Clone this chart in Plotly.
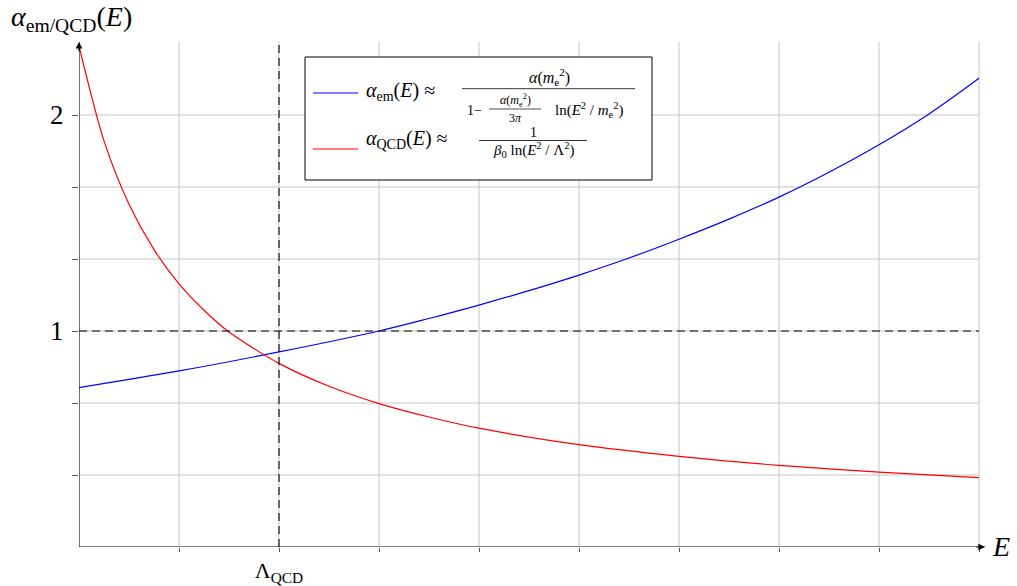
import plotly.graph_objects as go

# ---- data ----
em_E = [0, 1.0, 2.0, 3.0, 3.5, 4.0, 4.5, 5.0, 5.5, 6.0, 6.5, 7.0, 7.5, 8.0, 8.5, 9.0]
em_alpha = [0.738, 0.815, 0.903, 1.0, 1.058, 1.120, 1.187, 1.259, 1.338, 1.425, 1.518,
            1.620, 1.735, 1.862, 2.005, 2.170]

qcd_E = [0, 0.25, 0.5, 0.75, 1.0, 1.25, 1.5, 2.0, 2.5, 3.0, 3.5, 4.0, 5.0, 6.0, 7.0, 8.0, 9.0]
qcd_alpha = [2.32, 1.88, 1.587, 1.377, 1.218, 1.096, 0.995, 0.85, 0.744, 0.664, 0.602, 0.55,
             0.474, 0.420, 0.378, 0.347, 0.321]

x_ticks = [1, 2, 3, 4, 5, 6, 7, 8, 9]
x_ticklabels = ["", "Λ<sub>QCD</sub>", "", "", "", "", "", "", ""]
y_ticks = [1/3, 2/3, 1, 4/3, 5/3, 2]
y_ticklabels = ["", "", "1", "", "", "2"]

lambda_qcd = 2.0
ref_level = 1.0

# ---- geometry ----
W, H = 1017, 586
ML, MR, MT, MB = 79, 32, 42, 39
XMAX, YMAX = 9.06, 2.338
GRID_X_END = 9.0
FONT = "Liberation Serif"
GRID = "#c4c4c4"


def P(px, py):
    return (px - ML) / (W - ML - MR), (H - MB - py) / (H - MT - MB)


fig = go.Figure()

fig.add_trace(go.Scatter(x=em_E, y=em_alpha, mode="lines",
                         line=dict(color="#0000ff", width=1.2, shape="spline", smoothing=1.0),
                         showlegend=False, hoverinfo="skip"))
fig.add_trace(go.Scatter(x=qcd_E, y=qcd_alpha, mode="lines",
                         line=dict(color="#ff0000", width=1.2, shape="spline", smoothing=0.8),
                         showlegend=False, hoverinfo="skip"))

shapes = []
# grid
for xv in x_ticks:
    shapes.append(dict(type="line", xref="x", yref="y", x0=xv, x1=xv, y0=0, y1=YMAX,
                       line=dict(color=GRID, width=1), layer="below"))
for yv in y_ticks:
    shapes.append(dict(type="line", xref="x", yref="y", x0=0, x1=GRID_X_END, y0=yv, y1=yv,
                       line=dict(color=GRID, width=1), layer="below"))
# dashed reference lines
shapes.append(dict(type="line", xref="x", yref="y", x0=lambda_qcd, x1=lambda_qcd, y0=0, y1=YMAX,
                   line=dict(color="black", width=1.1, dash="8px,5px")))
shapes.append(dict(type="line", xref="x", yref="y", x0=0, x1=GRID_X_END, y0=ref_level, y1=ref_level,
                   line=dict(color="black", width=1.1, dash="8px,5px")))
# axis lines
shapes.append(dict(type="line", xref="x", yref="y", x0=0, x1=XMAX, y0=0, y1=0,
                   line=dict(color="black", width=1.1)))
shapes.append(dict(type="line", xref="x", yref="y", x0=0, x1=0, y0=0, y1=YMAX,
                   line=dict(color="black", width=1.1)))

# legend box
lx0, ly0 = P(305, 57)
lx1, ly1 = P(652, 180)
shapes.append(dict(type="rect", xref="paper", yref="paper", x0=lx0, x1=lx1, y0=ly1, y1=ly0,
                   line=dict(color="black", width=1), fillcolor="white"))


def hline(px0, px1, py, color, width=1):
    a, b = P(px0, py)
    c, _ = P(px1, py)
    shapes.append(dict(type="line", xref="paper", yref="paper", x0=a, x1=c, y0=b, y1=b,
                       line=dict(color=color, width=width)))


hline(313, 358, 93, "#0000ff", 1.2)
hline(313, 358, 149, "#ff0000", 1.2)
hline(462, 635, 88.7, "black", 0.8)
hline(489, 541, 109, "black", 0.7)
hline(479, 587, 140.5, "black", 0.8)

annotations = []


def txt(text, px, py, size, xanchor="center"):
    x, y = P(px, py)
    annotations.append(dict(text=text, x=x, y=y, xref="paper", yref="paper", showarrow=False,
                            xanchor=xanchor, yanchor="middle",
                            font=dict(family=FONT, size=size, color="black")))


txt("<i>α</i><sub>em</sub>(<i>E</i>) ≈", 364, 92, 20, "left")
txt("<i>α</i>(<i>m</i><sub>e</sub><sup>2</sup>)", 549, 77, 16)
txt("1−", 474, 110, 14)
txt("<i>α</i>(<i>m</i><sub>e</sub><sup>2</sup>)", 515, 100, 12)
txt("3<i>π</i>", 515, 118, 12)
txt("ln(<i>E</i><sup>2</sup> / <i>m</i><sub>e</sub><sup>2</sup>)", 589, 110, 15)
txt("<i>α</i><sub>QCD</sub>(<i>E</i>) ≈", 364, 140, 20, "left")
txt("1", 533, 132, 14)
txt("<i>β</i><sub>0</sub> ln(<i>E</i><sup>2</sup> / Λ<sup>2</sup>)", 533, 150, 15)

# axis titles
txt("<i>α</i><sub>em/QCD</sub>(<i>E</i>)", 9, 19, 28, "left")
txt("<i>E</i>", 990, 546, 28, "left")

# axis arrowheads
annotations.append(dict(x=XMAX, y=0, ax=XMAX - 0.1, ay=0, xref="x", yref="y", axref="x", ayref="y",
                        showarrow=True, arrowhead=2, arrowsize=1.2, arrowwidth=1.1,
                        arrowcolor="black", text=""))
annotations.append(dict(x=0, y=YMAX, ax=0, ay=YMAX - 0.05, xref="x", yref="y", axref="x", ayref="y",
                        showarrow=True, arrowhead=2, arrowsize=1.2, arrowwidth=1.1,
                        arrowcolor="black", text=""))

fig.update_layout(
    width=W, height=H,
    margin=dict(l=ML, r=MR, t=MT, b=MB, autoexpand=False),
    paper_bgcolor="white", plot_bgcolor="white",
    shapes=shapes, annotations=annotations,
    showlegend=False,
    xaxis=dict(range=[0, XMAX], showgrid=False, zeroline=False, showline=False,
               automargin=False,
               tickmode="array", tickvals=x_ticks, ticktext=x_ticklabels,
               ticks="outside", ticklen=4, tickcolor="#555", tickwidth=1,
               tickfont=dict(family=FONT, size=22, color="black"), fixedrange=True),
    yaxis=dict(range=[0, YMAX], showgrid=False, zeroline=False, showline=False,
               automargin=False,
               tickmode="array", tickvals=y_ticks, ticktext=y_ticklabels,
               ticks="outside", ticklen=6, tickcolor="#555", tickwidth=1,
               ticklabelstandoff=3,
               tickfont=dict(family=FONT, size=27, color="black"), fixedrange=True),
)

fig.write_html("out.html",
               config={"displayModeBar": False, "staticPlot": True},
               post_script="document.body.style.margin='0';document.body.style.overflow='hidden';"
                           "document.documentElement.style.overflow='hidden';")
